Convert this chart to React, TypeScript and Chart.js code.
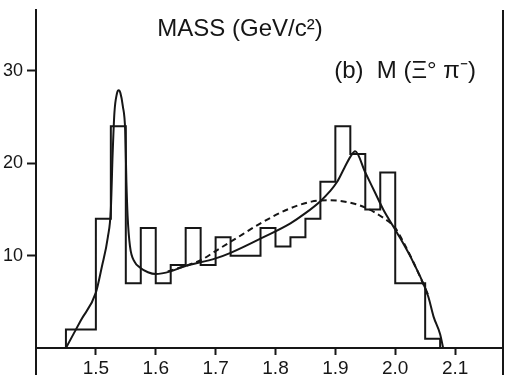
import React, { useEffect, useRef } from "react";
import { Chart, registerables } from "chart.js";

Chart.register(...registerables);

// Histogram: lower bin edges (GeV/c^2), bin width 0.025, and event counts
const binLowEdges = [
  1.45, 1.475, 1.5, 1.525, 1.55, 1.575, 1.6, 1.625, 1.65, 1.675, 1.7, 1.725, 1.75,
  1.775, 1.8, 1.825, 1.85, 1.875, 1.9, 1.925, 1.95, 1.975, 2.0, 2.025, 2.05,
];
const binWidth = 0.025;
const counts = [
  2, 2, 14, 24, 7, 13, 7, 9, 13, 9, 12, 10, 10, 13, 11, 12, 14, 18, 24, 21, 15, 19, 7, 7, 1,
];

// Solid fit curve (resonances + background)
const fitMass = [
  1.45, 1.475, 1.5, 1.51, 1.52, 1.525, 1.528, 1.531, 1.535, 1.538, 1.541, 1.545, 1.549,
  1.551, 1.553, 1.557, 1.565, 1.574, 1.587, 1.6, 1.625, 1.646, 1.7, 1.725, 1.78, 1.825,
  1.85, 1.875, 1.89, 1.903, 1.915, 1.925, 1.933, 1.95, 1.965, 1.98, 2.002, 2.03, 2.055,
  2.064, 2.075, 2.08,
];
const fitCounts = [
  0, 3.0, 6.0, 8.8, 12.0, 15.0, 21.0, 25.5, 27.5, 27.9, 27.6, 26.2, 23.5,
  18.0, 14.3, 11.0, 9.3, 8.7, 8.2, 8.0, 8.3, 8.8, 9.7, 10.3, 12.0, 13.5,
  14.6, 15.9, 16.9, 18.0, 19.5, 20.7, 21.3, 19.0, 17.0, 15.0, 12.6, 9.3, 5.6,
  3.4, 1.5, 0,
];

// Dashed background curve (phase space)
const bgMass = [
  1.62, 1.65, 1.675, 1.7, 1.73, 1.775, 1.82, 1.86, 1.89, 1.92, 1.95, 1.98, 2.0, 2.015,
  2.031, 2.045, 2.056,
];
const bgCounts = [
  8.3, 8.9, 9.5, 10.5, 11.7, 13.5, 15.0, 15.85, 16.0, 15.8, 15.2, 14.1, 13.0, 11.3,
  9.2, 7.2, 5.6,
];

const xTicks = [1.5, 1.6, 1.7, 1.8, 1.9, 2.0, 2.1];
const yTicks = [10, 20, 30];
const xRange = [1.4, 2.18];
const yRange = [0, 36.6];

const titleText = "MASS (GeV/c\u00B2)";
const panelText = "(b)  M (\u039E\u00B0 \u03C0\u207B)";

const INK = "#161616";
const FONT = "'Liberation Sans', Arial, Helvetica, sans-serif";

const framePlugin = {
  id: "framePlugin",
  afterDraw(chart: any) {
    const { ctx, chartArea } = chart;
    const { left, right, top } = chartArea;
    ctx.save();
    ctx.strokeStyle = INK;
    ctx.lineWidth = 2;
    ctx.beginPath();
    ctx.moveTo(left, top);
    ctx.lineTo(left, chart.height);
    ctx.moveTo(right, top);
    ctx.lineTo(right, chart.height);
    ctx.stroke();

    ctx.fillStyle = INK;
    ctx.font = `24px ${FONT}`;
    ctx.textAlign = "center";
    ctx.textBaseline = "alphabetic";
    ctx.fillText(titleText, left + 204, top + 26);
    ctx.fillText(panelText, left + 369, top + 68);
    ctx.restore();
  },
};

export default function App() {
  const canvasRef = useRef<HTMLCanvasElement | null>(null);

  useEffect(() => {
    document.body.style.margin = "0";
    const canvas = canvasRef.current;
    if (!canvas) return;

    const histData: { x: number; y: number }[] = [{ x: binLowEdges[0], y: 0 }];
    binLowEdges.forEach((e, i) => histData.push({ x: e, y: counts[i] }));
    histData.push({ x: binLowEdges[binLowEdges.length - 1] + binWidth, y: 0 });

    const fitData = fitMass.map((m, i) => ({ x: m, y: fitCounts[i] }));
    const bgData = bgMass.map((m, i) => ({ x: m, y: bgCounts[i] }));

    const chart = new Chart(canvas, {
      type: "line",
      data: {
        datasets: [
          {
            label: "histogram",
            data: histData,
            stepped: "before",
            borderColor: INK,
            borderWidth: 2,
            pointRadius: 0,
            fill: false,
          },
          {
            label: "fit",
            data: fitData,
            cubicInterpolationMode: "monotone",
            borderColor: INK,
            borderWidth: 2,
            pointRadius: 0,
            fill: false,
          },
          {
            label: "background",
            data: bgData,
            cubicInterpolationMode: "monotone",
            borderColor: INK,
            borderWidth: 2,
            borderDash: [6, 4],
            pointRadius: 0,
            fill: false,
          },
        ],
      },
      options: {
        animation: false,
        responsive: false,
        devicePixelRatio: 1,
        layout: { padding: { top: 10, right: 20, left: 0, bottom: 0 } },
        plugins: {
          legend: { display: false },
          tooltip: { enabled: false },
        },
        scales: {
          x: {
            type: "linear",
            min: xRange[0],
            max: xRange[1],
            afterBuildTicks: (scale: any) => {
              scale.ticks = xTicks.map((v) => ({ value: v }));
            },
            afterFit: (scale: any) => {
              scale.height = 27;
              scale.paddingLeft = 0;
              scale.paddingRight = 0;
            },
            grid: {
              drawOnChartArea: false,
              drawTicks: true,
              tickLength: 7,
              tickWidth: 2,
              tickColor: INK,
            },
            border: { display: true, color: INK, width: 2 },
            ticks: {
              autoSkip: false,
              maxRotation: 0,
              padding: 2,
              color: INK,
              font: { family: FONT, size: 19 },
              callback: (v: any) => Number(v).toFixed(1),
            },
          },
          y: {
            type: "linear",
            min: yRange[0],
            max: yRange[1],
            afterBuildTicks: (scale: any) => {
              scale.ticks = yTicks.map((v) => ({ value: v }));
            },
            afterFit: (scale: any) => {
              scale.width = 36;
              scale.paddingTop = 0;
              scale.paddingBottom = 0;
            },
            grid: {
              drawOnChartArea: false,
              drawTicks: true,
              tickLength: 9,
              tickWidth: 2,
              tickColor: INK,
            },
            border: { display: true, color: INK, width: 2 },
            ticks: {
              padding: 4,
              color: INK,
              font: { family: FONT, size: 18 },
              callback: (v: any) => String(v),
            },
          },
        },
      },
      plugins: [framePlugin],
    });

    return () => chart.destroy();
  }, []);

  return (
    <div style={{ width: 523, height: 375, position: "relative", background: "#fff" }}>
      <canvas ref={canvasRef} width={523} height={375} />
    </div>
  );
}
